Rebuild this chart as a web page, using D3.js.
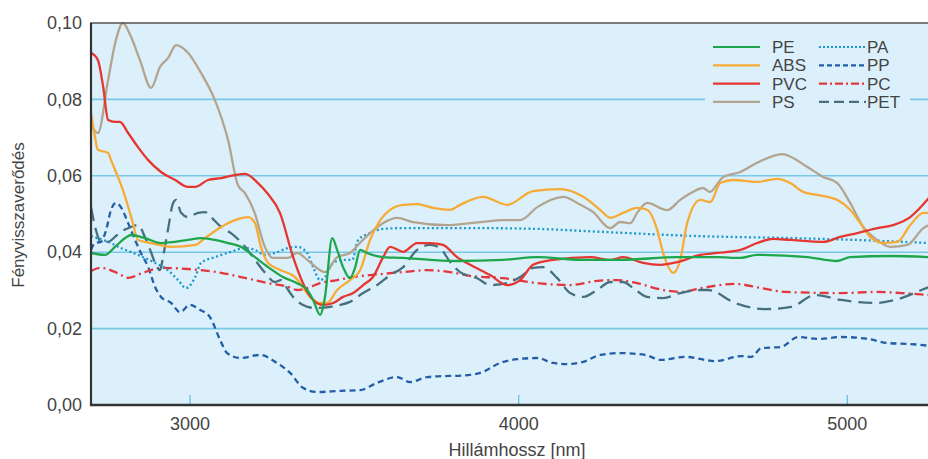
<!DOCTYPE html>
<html>
<head>
<meta charset="utf-8">
<script src="https://cdn.jsdelivr.net/npm/d3@7"></script>
<style>
  body { margin: 0; background: #fff; }
  svg text { font-family: "Liberation Sans", Arial, sans-serif; fill: #444; }
</style>
</head>
<body>
<svg id="chart" width="928" height="459"></svg>
<script>
// wavelength (nm), reflectance
var PE = [[2700,0.0398],[2743,0.0393],[2773,0.0414],[2804,0.0437],[2822,0.0445],[2864,0.0437],[2913,0.0424],[2995,0.0432],[3035,0.0437],[3077,0.0432],[3117,0.0424],[3157,0.0414],[3199,0.0387],[3239,0.0361],[3284,0.0335],[3327,0.0319],[3358,0.0301],[3376,0.0275],[3397,0.0236],[3412,0.0283],[3434,0.0437],[3449,0.0406],[3467,0.0361],[3488,0.0332],[3504,0.0361],[3519,0.0406],[3540,0.0398],[3589,0.0387],[3650,0.0385],[3732,0.0380],[3814,0.0377],[3954,0.0380],[4058,0.0387],[4189,0.0380],[4310,0.0380],[4484,0.0387],[4606,0.0387],[4676,0.0385],[4727,0.0393],[4880,0.0387],[4971,0.0377],[5010,0.0387],[5132,0.0390],[5250,0.0387]];
var ABS = [[2700,0.0765],[2712,0.0702],[2721,0.0668],[2752,0.0660],[2761,0.0641],[2782,0.0597],[2797,0.0563],[2825,0.0484],[2843,0.0432],[2883,0.0424],[2944,0.0414],[3017,0.0419],[3047,0.0437],[3096,0.0466],[3138,0.0484],[3178,0.0492],[3199,0.0476],[3217,0.0414],[3239,0.0372],[3278,0.0353],[3321,0.0335],[3367,0.0283],[3397,0.0267],[3418,0.0267],[3449,0.0301],[3488,0.0327],[3519,0.0353],[3549,0.0432],[3580,0.0484],[3610,0.0511],[3650,0.0524],[3692,0.0526],[3741,0.0516],[3793,0.0511],[3823,0.0524],[3893,0.0545],[3966,0.0524],[4045,0.0560],[4128,0.0565],[4198,0.0545],[4249,0.0511],[4280,0.0490],[4319,0.0503],[4362,0.0516],[4392,0.0511],[4423,0.0458],[4441,0.0398],[4472,0.0346],[4493,0.0380],[4514,0.0476],[4554,0.0537],[4584,0.0531],[4615,0.0581],[4654,0.0589],[4727,0.0584],[4788,0.0592],[4828,0.0581],[4867,0.0558],[4910,0.0550],[4971,0.0537],[5010,0.0511],[5041,0.0476],[5071,0.0440],[5111,0.0424],[5154,0.0427],[5193,0.0471],[5233,0.0503],[5250,0.0503]];
var PVC = [[2700,0.0922],[2721,0.0903],[2737,0.0833],[2752,0.0746],[2773,0.0741],[2788,0.0741],[2813,0.0712],[2843,0.0675],[2874,0.0641],[2913,0.0610],[2956,0.0589],[2995,0.0571],[3017,0.0571],[3056,0.0589],[3096,0.0594],[3138,0.0602],[3169,0.0605],[3208,0.0581],[3236,0.0555],[3275,0.0503],[3315,0.0387],[3345,0.0319],[3376,0.0275],[3406,0.0262],[3437,0.0267],[3467,0.0283],[3498,0.0293],[3528,0.0314],[3558,0.0335],[3589,0.0387],[3610,0.0414],[3650,0.0401],[3692,0.0424],[3732,0.0424],[3771,0.0419],[3814,0.0387],[3854,0.0367],[3915,0.0340],[3966,0.0314],[4006,0.0327],[4045,0.0367],[4106,0.0380],[4219,0.0387],[4280,0.0380],[4320,0.0387],[4380,0.0372],[4432,0.0367],[4484,0.0374],[4554,0.0393],[4606,0.0398],[4676,0.0406],[4727,0.0424],[4776,0.0435],[4828,0.0432],[4928,0.0427],[4980,0.0440],[5032,0.0450],[5093,0.0463],[5141,0.0471],[5193,0.0492],[5250,0.0542]];
var PS = [[2700,0.0733],[2721,0.0712],[2752,0.0851],[2776,0.0956],[2797,0.1000],[2819,0.0969],[2849,0.0903],[2883,0.0830],[2910,0.0885],[2934,0.0908],[2959,0.0942],[2995,0.0922],[3035,0.0869],[3077,0.0798],[3117,0.0694],[3147,0.0576],[3168,0.0555],[3198,0.0503],[3229,0.0414],[3253,0.0385],[3300,0.0385],[3327,0.0398],[3358,0.0380],[3397,0.0353],[3412,0.0348],[3449,0.0387],[3488,0.0398],[3518,0.0424],[3549,0.0450],[3588,0.0476],[3631,0.0490],[3680,0.0479],[3784,0.0471],[3884,0.0479],[3954,0.0484],[4006,0.0484],[4058,0.0518],[4137,0.0545],[4189,0.0524],[4228,0.0505],[4280,0.0463],[4310,0.0479],[4341,0.0476],[4362,0.0503],[4392,0.0529],[4453,0.0510],[4493,0.0537],[4532,0.0558],[4562,0.0568],[4583,0.0558],[4624,0.0597],[4676,0.0610],[4727,0.0634],[4803,0.0657],[4880,0.0623],[4928,0.0597],[4971,0.0581],[5010,0.0529],[5050,0.0466],[5092,0.0432],[5132,0.0414],[5184,0.0419],[5233,0.0463],[5250,0.0471]];
var PA = [[2700,0.0442],[2752,0.0427],[2791,0.0411],[2843,0.0393],[2895,0.0372],[2934,0.0353],[2965,0.0327],[2989,0.0306],[3017,0.0335],[3035,0.0372],[3077,0.0387],[3126,0.0401],[3169,0.0411],[3199,0.0406],[3230,0.0393],[3260,0.0398],[3300,0.0411],[3327,0.0414],[3358,0.0398],[3376,0.0361],[3397,0.0327],[3412,0.0335],[3437,0.0372],[3467,0.0380],[3495,0.0380],[3513,0.0432],[3549,0.0450],[3589,0.0461],[3650,0.0463],[3884,0.0463],[4058,0.0461],[4259,0.0453],[4554,0.0442],[4828,0.0437],[5032,0.0432],[5250,0.0424]];
var PP = [[2700,0.0406],[2712,0.0424],[2730,0.0427],[2746,0.0458],[2761,0.0511],[2776,0.0529],[2791,0.0518],[2813,0.0476],[2834,0.0432],[2852,0.0398],[2874,0.0361],[2895,0.0309],[2913,0.0283],[2944,0.0267],[2971,0.0243],[3001,0.0262],[3032,0.0249],[3062,0.0230],[3093,0.0170],[3114,0.0136],[3154,0.0123],[3214,0.0131],[3266,0.0110],[3306,0.0084],[3345,0.0045],[3388,0.0034],[3458,0.0037],[3519,0.0039],[3571,0.0058],[3631,0.0073],[3671,0.0060],[3723,0.0073],[3854,0.0079],[3884,0.0084],[3945,0.0110],[3997,0.0120],[4058,0.0123],[4106,0.0110],[4149,0.0107],[4198,0.0113],[4249,0.0131],[4310,0.0136],[4386,0.0131],[4435,0.0118],[4508,0.0126],[4600,0.0115],[4679,0.0128],[4709,0.0126],[4740,0.0149],[4800,0.0152],[4852,0.0178],[4913,0.0173],[4983,0.0178],[5065,0.0173],[5126,0.0162],[5187,0.0160],[5250,0.0155]];
var PC = [[2700,0.0351],[2730,0.0359],[2779,0.0346],[2813,0.0333],[2858,0.0346],[2913,0.0359],[2995,0.0356],[3096,0.0346],[3157,0.0335],[3239,0.0319],[3300,0.0309],[3327,0.0301],[3358,0.0306],[3397,0.0319],[3449,0.0327],[3498,0.0335],[3549,0.0340],[3650,0.0348],[3723,0.0353],[3793,0.0348],[3854,0.0338],[3954,0.0332],[4058,0.0319],[4158,0.0314],[4240,0.0325],[4301,0.0327],[4362,0.0319],[4441,0.0301],[4493,0.0296],[4557,0.0306],[4660,0.0317],[4740,0.0306],[4813,0.0296],[4983,0.0293],[5087,0.0296],[5166,0.0293],[5250,0.0288]];
var PET = [[2700,0.0518],[2715,0.0458],[2730,0.0427],[2752,0.0427],[2773,0.0440],[2791,0.0453],[2822,0.0466],[2843,0.0471],[2864,0.0440],[2880,0.0406],[2895,0.0372],[2910,0.0353],[2919,0.0387],[2934,0.0458],[2950,0.0529],[2959,0.0537],[2974,0.0503],[2995,0.0492],[3026,0.0503],[3047,0.0505],[3065,0.0492],[3096,0.0466],[3126,0.0450],[3169,0.0414],[3199,0.0380],[3230,0.0346],[3260,0.0322],[3278,0.0327],[3300,0.0301],[3315,0.0283],[3345,0.0262],[3382,0.0254],[3428,0.0257],[3458,0.0262],[3488,0.0270],[3528,0.0293],[3571,0.0314],[3610,0.0340],[3650,0.0361],[3692,0.0406],[3732,0.0419],[3762,0.0411],[3793,0.0374],[3823,0.0348],[3875,0.0332],[3915,0.0314],[3966,0.0319],[4006,0.0335],[4045,0.0359],[4076,0.0361],[4119,0.0332],[4158,0.0293],[4198,0.0283],[4240,0.0301],[4280,0.0322],[4319,0.0322],[4350,0.0306],[4392,0.0283],[4441,0.0280],[4493,0.0293],[4554,0.0301],[4578,0.0301],[4660,0.0267],[4752,0.0251],[4831,0.0257],[4904,0.0288],[4983,0.0275],[5087,0.0267],[5166,0.0280],[5227,0.0301],[5250,0.0309]];

var names = ["PE", "ABS", "PVC", "PS", "PA", "PP", "PC", "PET"];
var seriesData = [PE, ABS, PVC, PS, PA, PP, PC, PET];
var xTicks = [3000, 4000, 5000];
var yTicks = [0, 0.02, 0.04, 0.06, 0.08, 0.10];

(function () {
    var styles = {
        PE:  { color: "#1ea64c", dash: null,       legendDash: null },
        ABS: { color: "#f7ab36", dash: null,       legendDash: null },
        PVC: { color: "#e5362f", dash: null,       legendDash: null },
        PS:  { color: "#b3a48f", dash: null,       legendDash: null },
        PA:  { color: "#1b98c9", dash: "2,2.6",    legendDash: "2,2" },
        PP:  { color: "#235ea6", dash: "6,4",      legendDash: "5,3" },
        PC:  { color: "#e2383d", dash: "9,4,2,4",  legendDash: "8,3,2,3" },
        PET: { color: "#47707f", dash: "14,7",     legendDash: "10,5" }
    };

    var svg = d3.select("#chart");
    var mLeft = 91, mRight = 929, mTop = 23, mBottom = 405;

    var x = d3.scaleLinear().domain([2700, 5250]).range([mLeft, mRight]);
    var y = d3.scaleLinear().domain([0, 0.10]).range([mBottom, mTop]);

    svg.append("defs").append("clipPath").attr("id", "plotClip")
        .append("rect").attr("x", mLeft).attr("y", mTop - 2)
        .attr("width", mRight - mLeft).attr("height", mBottom - mTop + 2);

    // plot background
    svg.append("rect")
        .attr("x", mLeft).attr("y", mTop)
        .attr("width", mRight - mLeft).attr("height", mBottom - mTop)
        .attr("fill", "#dcf0fb");

    // gridlines
    svg.append("g").selectAll("line")
        .data(yTicks.filter(function (d) { return d > 0 && d < 0.1; }))
        .enter().append("line")
        .attr("x1", mLeft).attr("x2", mRight)
        .attr("y1", function (d) { return y(d); })
        .attr("y2", function (d) { return y(d); })
        .attr("stroke", "#79c8e6")
        .attr("stroke-width", 1.6);

    // legend box sits over gridlines
    svg.append("rect")
        .attr("x", 705).attr("y", 36).attr("width", 205).attr("height", 76)
        .attr("fill", "#dcf0fb");

    var line = d3.line()
        .x(function (d) { return x(d[0]); })
        .y(function (d) { return y(d[1]); })
        .curve(d3.curveMonotoneX);

    var drawOrder = ["PP", "PC", "PET", "PA", "PS", "ABS", "PVC", "PE"];
    svg.append("g").attr("clip-path", "url(#plotClip)")
        .selectAll("path")
        .data(drawOrder)
        .enter().append("path")
        .attr("d", function (n) { return line(seriesData[names.indexOf(n)]); })
        .attr("fill", "none")
        .attr("stroke", function (n) { return styles[n].color; })
        .attr("stroke-width", 2.3)
        .attr("stroke-dasharray", function (n) { return styles[n].dash; });

    // x axis: ticks pointing up into plot
    var xAxis = d3.axisBottom(x).tickValues(xTicks).tickSize(0).tickPadding(12)
        .tickFormat(d3.format("d"));
    var gx = svg.append("g").attr("transform", "translate(0," + mBottom + ")").call(xAxis);
    gx.select(".domain").remove();
    gx.selectAll(".tick text").attr("font-size", 18).attr("fill", "#444")
        .attr("font-family", "Liberation Sans, Arial, sans-serif");
    gx.selectAll(".tick").append("line")
        .attr("y1", -1).attr("y2", -10)
        .attr("stroke", "#6cc0e4").attr("stroke-width", 1.3);

    var yAxis = d3.axisLeft(y).tickValues(yTicks).tickSize(0).tickPadding(9)
        .tickFormat(function (d) { return d3.format(".2f")(d).replace(".", ","); });
    var gy = svg.append("g").attr("transform", "translate(" + mLeft + ",0)").call(yAxis);
    gy.select(".domain").remove();
    gy.selectAll(".tick text").attr("font-size", 18).attr("fill", "#444")
        .attr("font-family", "Liberation Sans, Arial, sans-serif");

    // frame lines
    svg.append("line").attr("x1", mLeft - 1).attr("x2", mRight).attr("y1", mTop).attr("y2", mTop)
        .attr("stroke", "#555").attr("stroke-width", 1.5);
    svg.append("line").attr("x1", mLeft).attr("x2", mLeft).attr("y1", mTop).attr("y2", mBottom + 1)
        .attr("stroke", "#333").attr("stroke-width", 2.2);
    svg.append("line").attr("x1", mLeft - 1).attr("x2", mRight).attr("y1", mBottom).attr("y2", mBottom)
        .attr("stroke", "#333").attr("stroke-width", 2.6);

    // axis titles
    svg.append("text")
        .attr("x", (mLeft + mRight) / 2 + 7).attr("y", 456)
        .attr("text-anchor", "middle").attr("font-size", 18)
        .text("Hillámhossz [nm]");
    svg.append("text")
        .attr("transform", "translate(24,215) rotate(-90)")
        .attr("text-anchor", "middle").attr("font-size", 17)
        .text("Fényvisszaverődés");

    // legend
    var legendItems = svg.append("g").selectAll("g").data(names).enter().append("g")
        .attr("transform", function (d, i) {
            var col = Math.floor(i / 4), row = i % 4;
            return "translate(" + (col ? 819 : 713) + "," + (47 + row * 18.3) + ")";
        });
    legendItems.append("line")
        .attr("x1", 0).attr("x2", 47).attr("y1", 0).attr("y2", 0)
        .attr("stroke", function (d) { return styles[d].color; })
        .attr("stroke-width", 2.2)
        .attr("stroke-dasharray", function (d) { return styles[d].legendDash; });
    legendItems.append("text")
        .attr("x", function (d, i) { return i < 4 ? 59 : 48; })
        .attr("y", 6)
        .attr("font-size", 17).attr("fill", "#3a3a3a")
        .text(function (d) { return d; });
})();
</script>
</body>
</html>
